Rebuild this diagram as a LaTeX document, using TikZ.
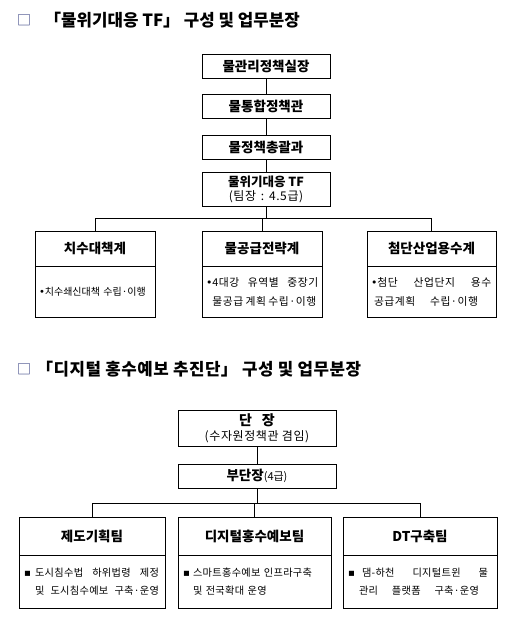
\documentclass[tikz,border=0pt]{standalone}
\usepackage{fontspec}
\setmainfont{Noto Sans CJK KR}
\newfontfamily\bulletfont{DejaVu Sans}
\usetikzlibrary{positioning}

\begin{document}
\begin{tikzpicture}[x=1pt,y=-1pt,line width=0.8pt]
  \definecolor{marknavy}{RGB}{40,50,120}
  \tikzset{
    orgbox/.style={draw,outer sep=0pt,align=center,inner sep=1pt,font=\fontsize{13.5}{15}\selectfont\bfseries},
    teamhead/.style={draw,outer sep=0pt,inner sep=1pt,font=\fontsize{13.5}{15}\selectfont\bfseries},
    teambody/.style={draw,outer sep=0pt,inner xsep=4pt,inner ysep=0pt,align=left,font=\fontsize{10}{19}\selectfont},
    spreadbody/.style={teambody,font=\fontsize{10.8}{19}\selectfont\addfontfeatures{LetterSpace=5}},
    squarebody/.style={teambody,inner xsep=5pt,minimum height=53pt,font=\fontsize{10.2}{18}\selectfont\addfontfeatures{LetterSpace=3}},
    secmark/.style={marknavy,inner sep=0pt,font=\fontsize{14}{14}\selectfont},
    sectitle/.style={anchor=west,inner sep=0pt,font=\fontsize{16.8}{17}\selectfont\bfseries}
  }
  \useasboundingbox (0,0) rectangle (514,634);
  \node[secmark] (markA) at (24,20.5) {□};
  \node[sectitle] (titleA) at (44,20.5) {「물위기대응 TF」 구성 및 업무분장};
  \node[orgbox,minimum width=128pt,minimum height=24pt] (chief) at (266,66) {물관리정책실장};
  \node[orgbox,minimum width=128pt,minimum height=24pt] (bureau) at (266,106) {물통합정책관};
  \node[orgbox,minimum width=128pt,minimum height=24pt] (division) at (266,147) {물정책총괄과};
  \node[orgbox,minimum width=128pt,minimum height=34pt,font=\fontsize{12.5}{14}\selectfont\bfseries] (tf) at (266,189) {물위기대응 TF\\{\fontsize{12}{13}\selectfont\mdseries\addfontfeatures{LetterSpace=5}(팀장\hspace{0.4em}:\hspace{0.4em}4.5급)}};
  \draw (chief) -- (bureau);
  \draw (bureau) -- (division);
  \draw (division) -- (tf);
  \coordinate (busA) at (266,218);
  \node[teamhead,minimum width=120pt,minimum height=35pt] (flood) at (95,248.5) {치수대책계};
  \node[teamhead,minimum width=120pt,minimum height=35pt] (supply) at (262,248.5) {물공급전략계};
  \node[teamhead,minimum width=129pt,minimum height=35pt] (industry) at (431.5,248.5) {첨단산업용수계};
  \node[teambody,text width=112pt,minimum height=51pt,below=0pt of flood] (floodtask) {{\bulletfont•}치수쇄신대책 수립·이행};
  \node[spreadbody,text width=112pt,minimum height=51pt,below=0pt of supply] (supplytask) {{\bulletfont•}\makebox[106pt][l]{4대강\hfill 유역별\hfill 중장기}\\\phantom{\bulletfont•}\makebox[104pt][l]{물공급\hfill 계획\hfill 수립·이행}};
  \node[spreadbody,text width=121pt,minimum height=51pt,below=0pt of industry] (industrytask) {{\bulletfont•}\makebox[114pt][l]{첨단\hfill 산업단지\hfill 용수}\\\hspace*{3pt}\makebox[104pt][l]{공급계획\hfill 수립·이행}};
  \draw (tf) -- (busA);
  \draw (flood.north) -- (flood.north |- busA) -- (industry.north |- busA) -- (industry.north);
  \draw (supply.north) -- (supply.north |- busA);

  \node[secmark] (markB) at (24,369.5) {□};
  \node[sectitle,font=\fontsize{16.8}{17}\selectfont\bfseries\addfontfeatures{LetterSpace=3}] (titleB) at (36,369.5) {「디지털 홍수예보 추진단」 구성 및 업무분장};
  \node[orgbox,minimum width=158pt,minimum height=36pt,font=\fontsize{14}{15}\selectfont\bfseries] (leader) at (257,428) {단\hspace{0.7em}장\\{\fontsize{12}{13}\selectfont\mdseries\addfontfeatures{LetterSpace=5}(수자원정책관 겸임)}};
  \node[orgbox,minimum width=158pt,minimum height=24pt] (deputy) at (257,476) {부단장{\fontsize{11}{12}\selectfont\mdseries(4급)}};
  \draw (leader) -- (deputy);
  \coordinate (busB) at (257,503);
  \node[teamhead,minimum width=146pt,minimum height=38pt] (policy) at (92,536) {제도기획팀};
  \node[teamhead,minimum width=153pt,minimum height=38pt] (forecast) at (254.5,536) {디지털홍수예보팀};
  \node[teamhead,minimum width=154pt,minimum height=38pt] (twin) at (420,536) {DT구축팀};
  \node[squarebody,text width=136pt,below=0pt of policy] (policytask) {\makebox[11pt][l]{\bulletfont▪}\makebox[124pt][l]{도시침수법\hfill 하위법령\hfill 제정}\\\hspace*{11pt}\makebox[124pt][l]{및\hfill 도시침수예보\hfill 구축·운영}};
  \node[squarebody,text width=143pt,below=0pt of forecast] (forecasttask) {\makebox[10pt][l]{\bulletfont▪}스마트홍수예보 인프라구축\\\hspace*{10pt}및 전국확대 운영};
  \node[squarebody,text width=144pt,below=0pt of twin] (twintask) {\makebox[14pt][l]{\bulletfont▪}\makebox[126pt][l]{댐-하천\hfill 디지털트윈\hfill 물}\\\hspace*{11pt}\makebox[120pt][l]{관리\hfill 플랫폼\hfill 구축·운영}};
  \draw (deputy) -- (busB);
  \draw (policy.north) -- (policy.north |- busB) -- (twin.north |- busB) -- (twin.north);
  \draw (forecast.north) -- (forecast.north |- busB);
\end{tikzpicture}
\end{document}
